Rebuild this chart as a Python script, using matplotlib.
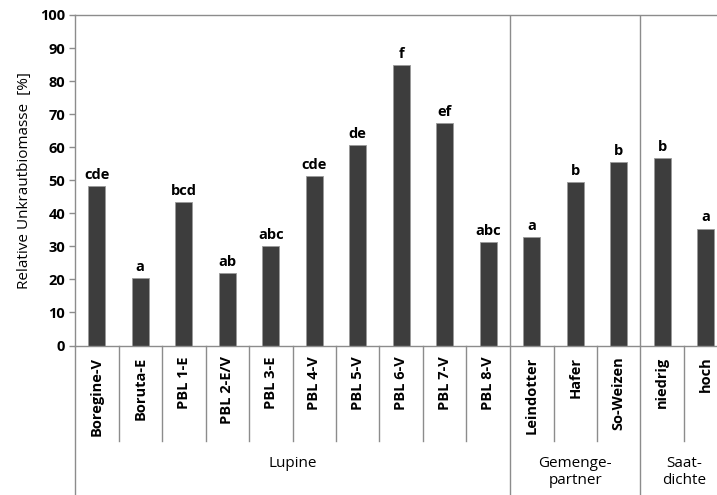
import matplotlib
matplotlib.use('Agg')
import matplotlib.pyplot as plt
import numpy as np

# Daten
sorten = ['Boregine-V', 'Boruta-E', 'PBL 1-E', 'PBL 2-E/V', 'PBL 3-E', 'PBL 4-V',
          'PBL 5-V', 'PBL 6-V', 'PBL 7-V', 'PBL 8-V',
          'Leindotter', 'Hafer', 'So-Weizen', 'niedrig', 'hoch']
werte = [48.2, 20.4, 43.4, 22.0, 30.0, 51.3, 60.6, 84.9, 67.4, 31.2,
         32.9, 49.5, 55.4, 56.7, 35.4]
buchstaben = ['cde', 'a', 'bcd', 'ab', 'abc', 'cde', 'de', 'f', 'ef', 'abc',
              'a', 'b', 'b', 'b', 'a']
gruppen = ['Lupine', 'Gemenge-\npartner', 'Saat-\ndichte']
gruppen_n = [10, 3, 2]

plt.rcParams['font.family'] = ['Open Sans', 'DejaVu Sans']
grau = '#8c8c8c'
fs = 10.5

fig = plt.figure(figsize=(7.17, 4.95), dpi=100)
ax = fig.add_axes([75 / 717, 1 - 345.5 / 495, 652.5 / 717, 330.5 / 495])

x = np.arange(len(sorten))
ax.bar(x, werte, width=0.4, color='#3d3d3d', edgecolor='#9a9a9a', linewidth=0.6, zorder=2)

for xi, w, b in zip(x, werte, buchstaben):
    ax.annotate(b, (xi, w), xytext=(0, 3), textcoords='offset points',
                ha='center', va='bottom', fontsize=fs, fontweight='bold')

ax.set_xlim(-0.5, len(sorten) - 0.5)
ax.set_ylim(0, 100)
ax.set_yticks(range(0, 101, 10))
ax.tick_params(axis='y', labelsize=fs, length=4, color=grau, width=1, pad=3)
for t in ax.get_yticklabels():
    t.set_fontweight('bold')
ax.set_xticks([])
ax.set_ylabel('Relative Unkrautbiomasse  [%]', fontsize=11, labelpad=6)

for s in ['top', 'left', 'bottom']:
    ax.spines[s].set_color(grau)
    ax.spines[s].set_linewidth(1)
ax.spines['right'].set_visible(False)

# Kategorienbeschriftung unter der Achse
trans = ax.get_xaxis_transform()
px = 1 / 330.5
for xi, s in zip(x, sorten):
    ax.text(xi, -11 * px, s, transform=trans, rotation=90, ha='center', va='top',
            fontsize=fs, fontweight='bold')

# Trennlinien
grenzen = np.cumsum([0] + gruppen_n)
for i in range(len(sorten) + 1):
    if i in grenzen:
        unten = -150 * px
    else:
        unten = -95 * px
    ax.plot([i - 0.5, i - 0.5], [0, unten], transform=trans, color=grau,
            linewidth=1, clip_on=False)
for i in range(1, len(grenzen) - 1):
    ax.plot([grenzen[i] - 0.5, grenzen[i] - 0.5], [0, 1], transform=trans,
            color=grau, linewidth=1, zorder=1)

# Gruppenbeschriftung
for g, a, b in zip(gruppen, grenzen[:-1], grenzen[1:]):
    ax.text((a + b - 1) / 2, -110 * px, g, transform=trans, ha='center', va='top',
            fontsize=11, linespacing=1.2)

fig.savefig('out.png', dpi=100)
